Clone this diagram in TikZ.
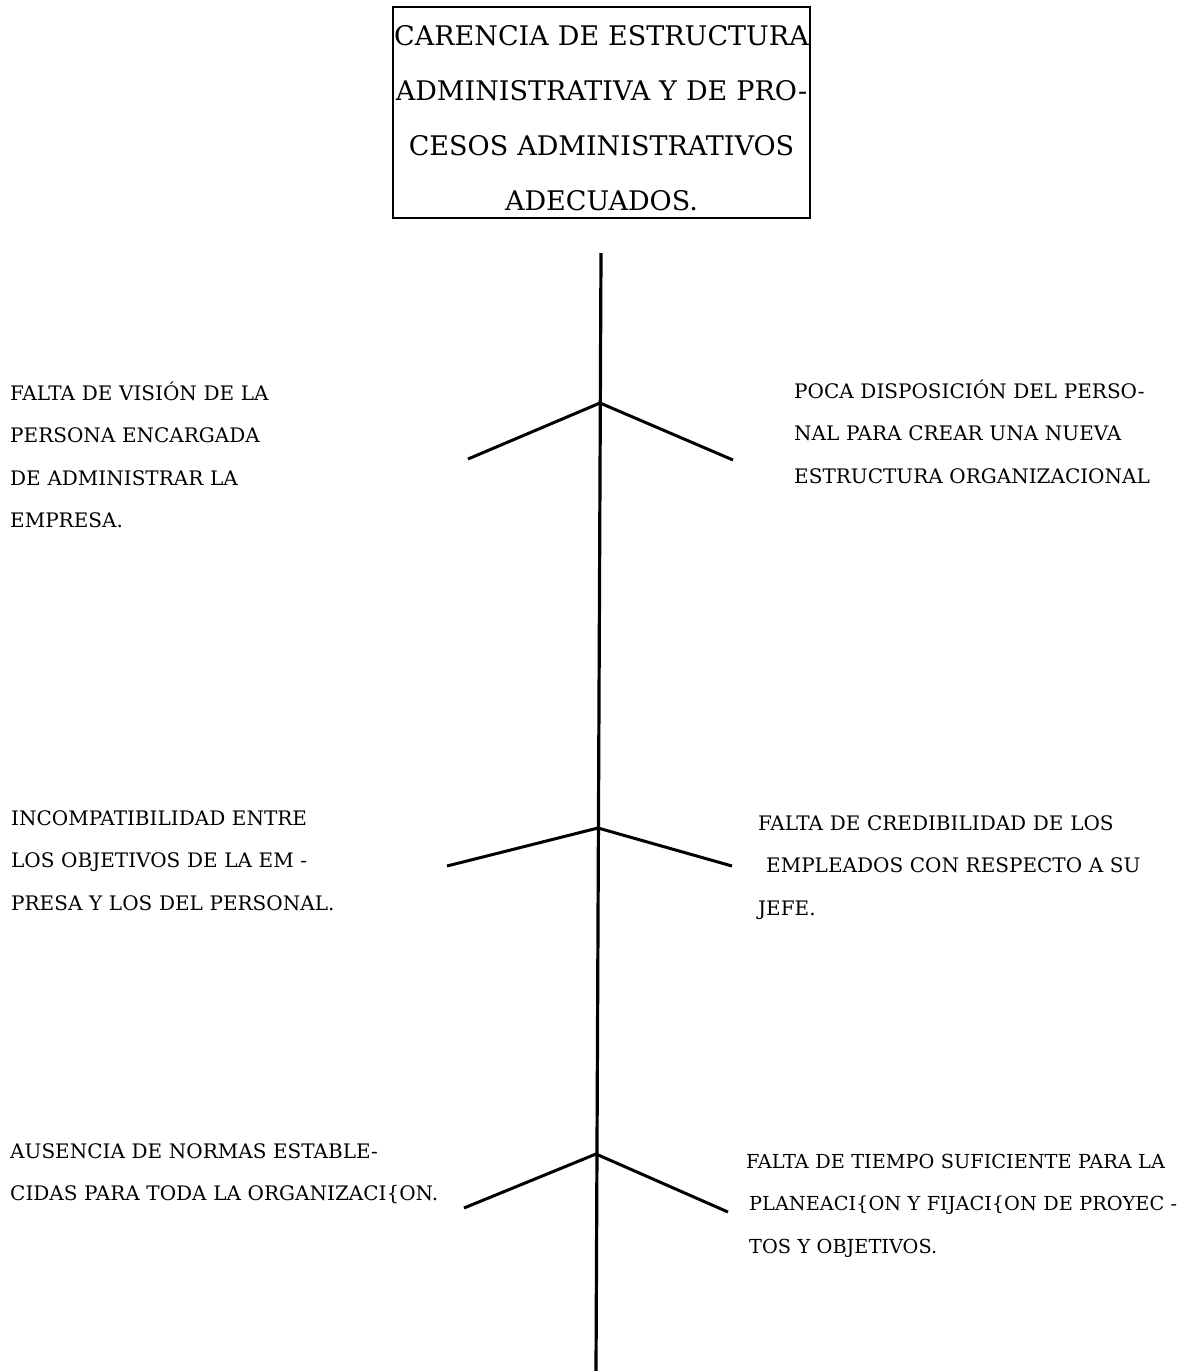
\documentclass[tikz,border=0pt]{standalone}
\usepackage{fontspec}
\setmainfont{DejaVu Serif}
\begin{document}
\begin{tikzpicture}[x=1pt,y=-1pt,
  bone/.style={line width=3.2pt},
  branch/.style={line width=3pt},
  cause/.style={anchor=base west,text width=460pt,align=left,inner sep=0pt,
    font=\fontsize{20}{42.5}\selectfont},
  titlebox/.style={draw,line width=2.6pt,minimum width=417pt,minimum height=211pt,
    inner sep=0pt,align=center,font=\fontsize{27}{55}\selectfont}]
\useasboundingbox (0,0) rectangle (1180,1371);
% title
\node[titlebox] (title) at (601.5,112.5) {};
\node[anchor=base,inner sep=0pt,font=\fontsize{27}{55}\selectfont,align=center,text width=500pt] (titletext) at (601.5,45)
 {CARENCIA DE ESTRUCTURA\\ADMINISTRATIVA Y DE PRO-\\CESOS ADMINISTRATIVOS\\ADECUADOS.};
% spine
\coordinate (top) at (601,253);
\coordinate (bot) at (596,1371);
\draw[bone] (top) -- (bot);
% junctions and branch ends
\coordinate (j1) at (600,403);
\coordinate (l1) at (468,459);
\coordinate (r1) at (733,460);
\coordinate (j2) at (598,828);
\coordinate (l2) at (447,866);
\coordinate (r2) at (732,866);
\coordinate (j3) at (596,1154);
\coordinate (l3) at (464,1208);
\coordinate (r3) at (728,1212);
\draw[branch] (l1) -- (j1) -- (r1);
\draw[branch] (l2) -- (j2) -- (r2);
\draw[branch] (l3) -- (j3) -- (r3);
% causes
\node[cause] (c1) at (10,400) {FALTA DE VISIÓN DE LA\\PERSONA ENCARGADA\\DE ADMINISTRAR LA\\EMPRESA.};
\node[cause] (c2) at (794,398) {POCA DISPOSICIÓN DEL PERSO-\\NAL PARA CREAR UNA NUEVA\\ESTRUCTURA ORGANIZACIONAL};
\node[cause] (c3) at (11,825) {INCOMPATIBILIDAD ENTRE\\LOS OBJETIVOS DE LA EM -\\PRESA Y LOS DEL PERSONAL.};
\node[cause] (c4) at (758,830) {FALTA DE CREDIBILIDAD DE LOS\\\hspace*{8pt}EMPLEADOS CON RESPECTO A SU\\JEFE.};
\node[cause] (c5) at (10,1158) {AUSENCIA DE NORMAS ESTABLE-\\CIDAS PARA TODA LA ORGANIZACI\{ON.};
\node[cause,font=\fontsize{19.3}{42.5}\selectfont] (c6) at (746,1168) {FALTA DE TIEMPO SUFICIENTE PARA LA\\\hspace*{3pt}PLANEACI\{ON Y FIJACI\{ON DE PROYEC -\\\hspace*{3pt}TOS Y OBJETIVOS.};
\end{tikzpicture}
\end{document}
